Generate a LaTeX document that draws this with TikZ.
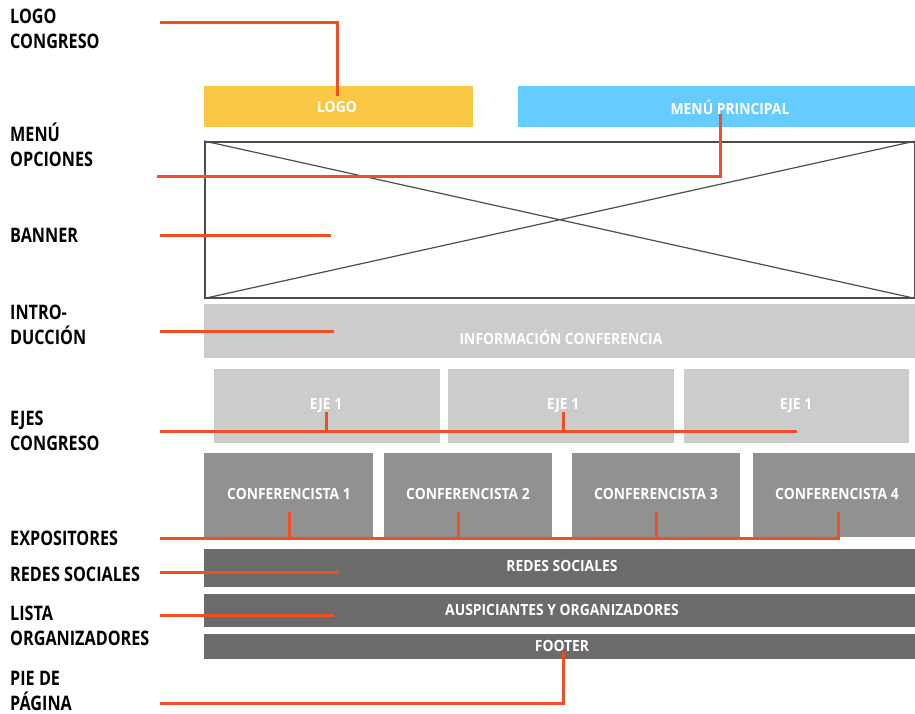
\documentclass[tikz,border=0pt]{standalone}
\usepackage{fontspec}
\newfontfamily\lblfont{Open Sans}[FakeStretch=0.81]
\newfontfamily\boxfont{Open Sans}[FakeStretch=0.9]
\definecolor{cyel}{HTML}{F9C744}
\definecolor{cblue}{HTML}{66CCFF}
\definecolor{clight}{HTML}{CCCCCC}
\definecolor{cmid}{HTML}{919191}
\definecolor{cdark}{HTML}{6B6B6B}
\definecolor{corange}{HTML}{F04E23}
\definecolor{coutline}{HTML}{4D4D4D}
\begin{document}
\begin{tikzpicture}[x=1pt,y=-1pt,
  lbl/.style={inner sep=0pt, anchor=base west, align=left, font=\lblfont\bfseries\fontsize{20}{24.5}\selectfont, text=black},
  blk/.style={inner sep=0pt, anchor=north west, draw=none},
  btxt/.style={inner sep=0pt, text=white, font=\boxfont\bfseries\fontsize{15.4}{18}\selectfont},
  wire/.style={draw=corange, line width=3pt}]
\useasboundingbox (0,0) rectangle (915,713);
% boxes
\node[blk, fill=cyel, minimum width=269pt, minimum height=41pt] (logo) at (204,86) {};
\node[blk, fill=cblue, minimum width=397pt, minimum height=41pt] (menu) at (518,86) {};
\node[blk, draw=coutline, line width=1.5pt, minimum width=710pt, minimum height=156pt] (banner) at (204,141) {};
\draw[coutline, line width=1.2pt] (banner.north west) -- (banner.south east) (banner.south west) -- (banner.north east);
\node[blk, fill=clight, minimum width=711pt, minimum height=54pt] (info) at (204,304) {};
\node[blk, fill=clight, minimum width=226pt, minimum height=74pt] (eje1) at (214,369) {};
\node[blk, fill=clight, minimum width=226pt, minimum height=74pt] (eje2) at (448,369) {};
\node[blk, fill=clight, minimum width=225pt, minimum height=74pt] (eje3) at (684,369) {};
\node[blk, fill=cmid, minimum width=169pt, minimum height=84pt] (conf1) at (204,453) {};
\node[blk, fill=cmid, minimum width=168pt, minimum height=84pt] (conf2) at (384,453) {};
\node[blk, fill=cmid, minimum width=168pt, minimum height=84pt] (conf3) at (572,453) {};
\node[blk, fill=cmid, minimum width=162pt, minimum height=84pt] (conf4) at (753,453) {};
\node[blk, fill=cdark, minimum width=711pt, minimum height=38pt] (redes) at (204,549) {};
\node[blk, fill=cdark, minimum width=711pt, minimum height=33pt] (ausp) at (204,594) {};
\node[blk, fill=cdark, minimum width=711pt, minimum height=25pt] (footer) at (204,634) {};
% box texts
\node[btxt] (tlogo) at (337,107) {LOGO};
\node[btxt] (tmenu) at (730,107) {MENÚ PRINCIPAL};
\node[btxt] (tinfo) at (561,337) {INFORMACIÓN CONFERENCIA};
\node[btxt] (teje1) at (326,406) {EJE 1};
\node[btxt] (teje2) at (563,406) {EJE 1};
\node[btxt] (teje3) at (796,406) {EJE 1};
\node[btxt] (tconf1) at (289,494) {CONFERENCISTA 1};
\node[btxt] (tconf2) at (468,494) {CONFERENCISTA 2};
\node[btxt] (tconf3) at (656,494) {CONFERENCISTA 3};
\node[btxt] (tconf4) at (837,494) {CONFERENCISTA 4};
\node[btxt] (tredes) at (562,566) {REDES SOCIALES};
\node[btxt] (tausp) at (562,610) {AUSPICIANTES Y ORGANIZADORES};
\node[btxt] (tfooter) at (562,646) {FOOTER};
% left labels (anchor = baseline of last line)
\node[lbl] (l1) at (10,48) {LOGO\\CONGRESO};
\node[lbl] (l2) at (10,166) {MENÚ\\OPCIONES};
\node[lbl] (l3) at (10,242) {BANNER};
\node[lbl] (l4) at (10,344) {INTRO-\\DUCCIÓN};
\node[lbl] (l5) at (10,450) {EJES\\CONGRESO};
\node[lbl] (l6) at (10,545) {EXPOSITORES};
\node[lbl] (l7) at (10,581) {REDES SOCIALES};
\node[lbl] (l8) at (10,645) {LISTA\\ORGANIZADORES};
\node[lbl] (l9) at (10,710) {PIE DE\\PÁGINA};
% wire endpoints
\coordinate (w1a) at (160,22); \coordinate (w1b) at (337,96);
\coordinate (w2a) at (157,176); \coordinate (w2b) at (720,114);
\coordinate (w3a) at (160,235); \coordinate (w3b) at (331,235);
\coordinate (w4a) at (160,331); \coordinate (w4b) at (334,331);
\coordinate (w5a) at (160,431); \coordinate (w5b) at (797,431);
\coordinate (w5t1) at (326,412); \coordinate (w5t2) at (563,412);
\coordinate (w6a) at (160,538); \coordinate (w6b) at (838,538);
\coordinate (w6t1) at (289,512); \coordinate (w6t2) at (458,512);
\coordinate (w6t3) at (656,512); \coordinate (w6t4) at (838,512);
\coordinate (w7a) at (160,572); \coordinate (w7b) at (339,572);
\coordinate (w8a) at (160,615); \coordinate (w8b) at (334,615);
\coordinate (w9a) at (160,703); \coordinate (w9b) at (563,652);
% wires
\draw[wire] (w1a) -| (w1b);
\draw[wire] (w2a) -| (w2b);
\draw[wire] (w3a) -- (w3b);
\draw[wire] (w4a) -- (w4b);
\draw[wire] (w5a) -- (w5b);
\draw[wire] (w5t1) -- (w5t1 |- w5a);
\draw[wire] (w5t2) -- (w5t2 |- w5a);
\draw[wire] (w6a) -| (w6t4);
\draw[wire] (w6t1) -- (w6t1 |- w6a);
\draw[wire] (w6t2) -- (w6t2 |- w6a);
\draw[wire] (w6t3) -- (w6t3 |- w6a);
\draw[wire] (w7a) -- (w7b);
\draw[wire] (w8a) -- (w8b);
\draw[wire] (w9a) -| (w9b);
\end{tikzpicture}
\end{document}
